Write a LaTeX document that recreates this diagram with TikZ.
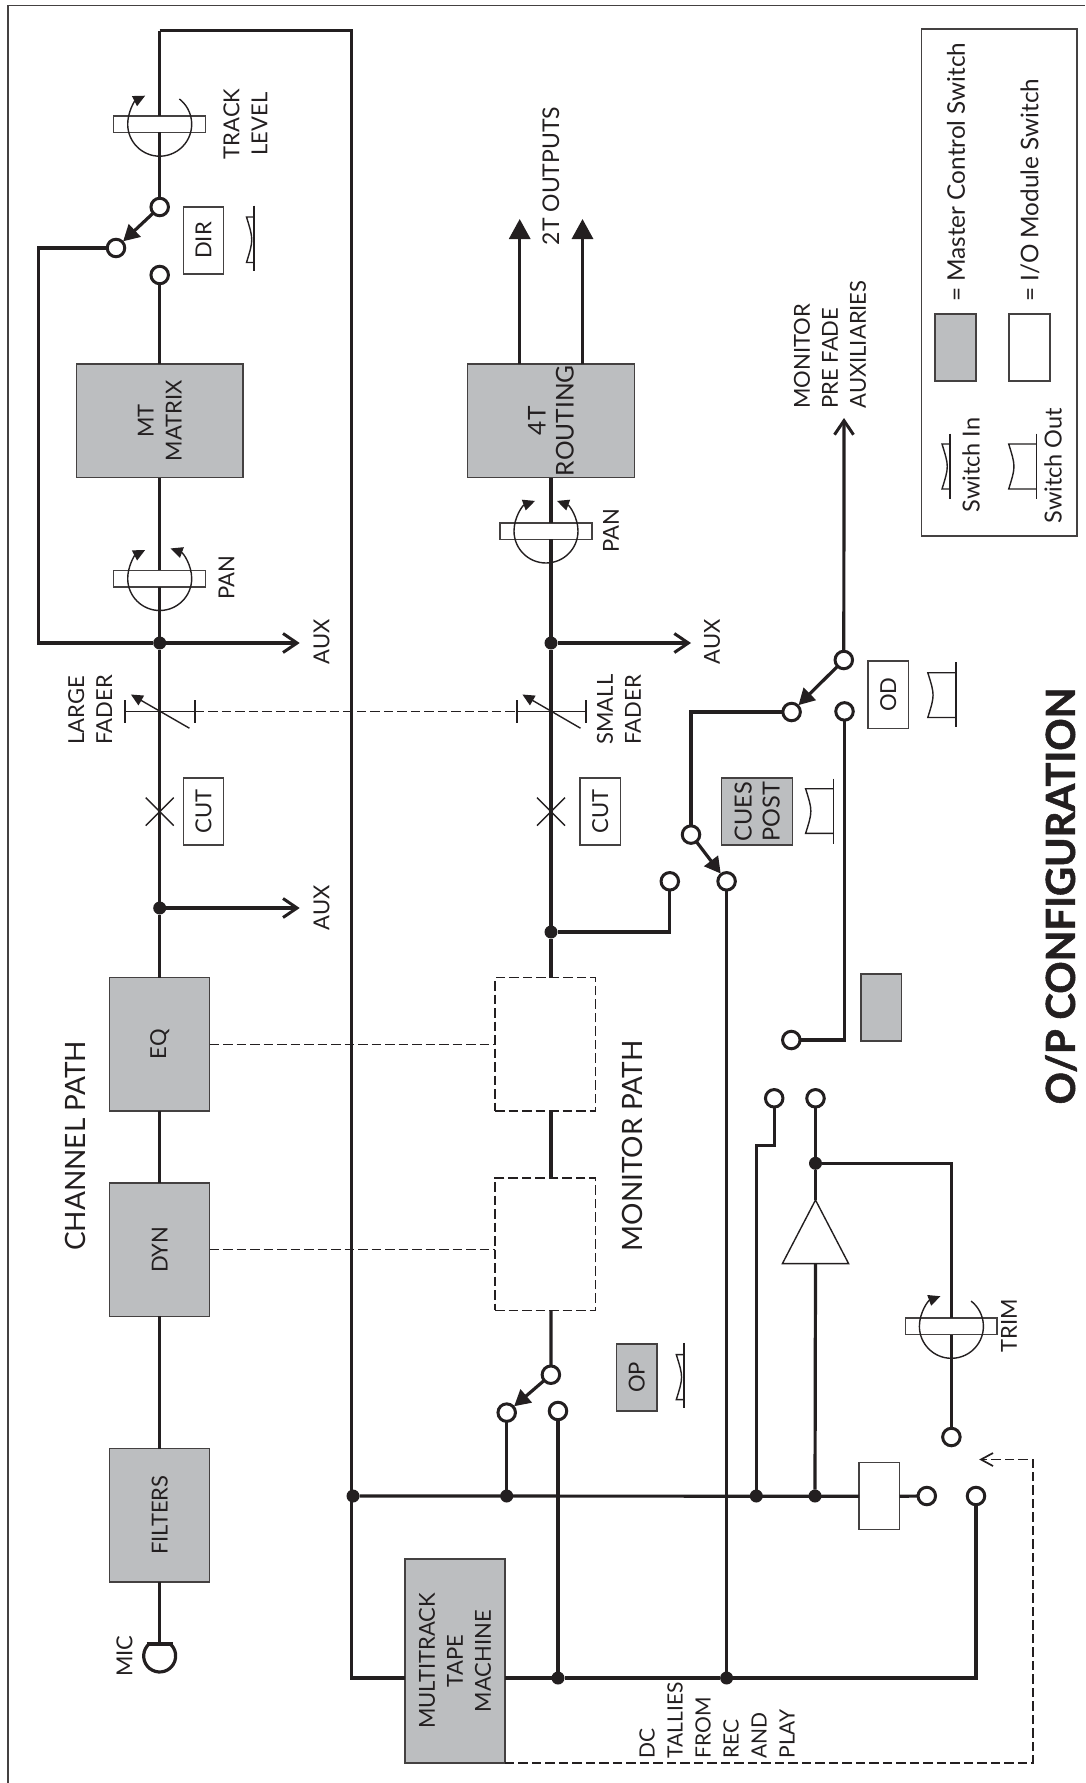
\documentclass[tikz,border=0pt]{standalone}
\usepackage{fontspec}
\setmainfont{Lato}
\newfontfamily\titlef[FakeBold=1.4]{Lato}
\usetikzlibrary{arrows.meta,calc}
\definecolor{ink}{HTML}{231F20}
\definecolor{gfill}{HTML}{BCBEC0}
\tikzset{
  wire/.style={draw=ink,line width=3.2pt},
  bus/.style={draw=ink,line width=3.2pt},
  fine/.style={draw=ink,line width=1.4pt},
  dashline/.style={draw=ink,line width=1.3pt,dash pattern=on 9.5pt off 4pt},
  gbox/.style={draw=ink!85,fill=gfill,line width=1.5pt,inner sep=0pt,outer sep=0pt},
  wbox/.style={draw=ink!85,fill=white,line width=1.5pt,inner sep=0pt,outer sep=0pt},
  dbox/.style={dashline,fill=white,inner sep=0pt,outer sep=0pt},
  term/.style={circle,draw=ink,fill=white,line width=3pt,minimum size=17.5pt,inner sep=0pt,outer sep=1pt},
  dot/.style={circle,fill=ink,minimum size=13pt,inner sep=0pt,outer sep=0pt},
  lab/.style={text=ink,rotate=90,inner sep=0pt,font=\fontsize{22}{28}\selectfont,align=center},
  labl/.style={lab,align=left,anchor=west},
  big/.style={lab,font=\fontsize{28}{32}\selectfont},
  legtext/.style={labl,font=\fontsize{24.3}{28}\selectfont},
  swarrow/.style={wire,-{Triangle[length=16pt,width=17pt]},shorten >=0pt},
  oparrow/.style={wire,-{Straight Barb[length=14pt,width=19pt,line width=3pt]}},
  filled/.style={wire,-{Triangle[length=20pt,width=21pt]}},
  arcarrow/.style={fine,-{Triangle[length=12pt,width=11pt]}},
}
% line x, line y0, line y1, shape x, shape ya, shape yb
\newcommand\swicon[6]{%
  \pgfmathsetmacro\midy{(#5+#6)/2}\pgfmathsetmacro\midx{#4+7}%
  \draw[fine] (#1,#2) -- (#1,#3);
  \draw[fine] (#1,#5) -- (#4,#5) .. controls (\midx,\midy) .. (#4,#6) -- (#1,#6);
}
\begin{document}
\begin{tikzpicture}[x=1pt,y=-1pt]
\useasboundingbox (0,0) rectangle (1085,1783);
% outer frame
\coordinate (fa) at (8,1783); \coordinate (fb) at (8,5.4); \coordinate (fc) at (1085,5.4);
\draw[draw=ink!85,line width=1.8pt] (fa) -- (fb) -- (fc);
% boxes
\node[gbox,minimum width=166.5pt,minimum height=113.6pt] (mt) at (159.7,420.8) {};
\node[lab] (mtT) at (mt) {MT\\MATRIX};
\node[gbox,minimum width=166.6pt,minimum height=113.6pt] (rt) at (551,420.8) {};
\node[lab,font=\fontsize{24.5}{28}\selectfont] (rtT) at (rt) {4T\\ROUTING};
\node[gbox,minimum width=100pt,minimum height=133.3pt] (eq) at (159.7,1044.3) {};
\node[lab] (eqT) at (eq) {EQ};
\node[gbox,minimum width=100pt,minimum height=133.4pt] (dyn) at (159.7,1249.7) {};
\node[lab] (dynT) at (dyn) {DYN};
\node[gbox,minimum width=100pt,minimum height=133.1pt] (fil) at (159.7,1515.2) {};
\node[lab] (filT) at (fil) {FILTERS};
\node[gbox,minimum width=99.8pt,minimum height=204pt] (tape) at (454.9,1661) {};
\node[lab] (tapeT) at (tape) {MULTITRACK\\TAPE\\MACHINE};
\node[dbox,minimum width=100.4pt,minimum height=133.3pt] (dm1) at (545.2,1044.3) {};
\node[dbox,minimum width=100.4pt,minimum height=132.5pt] (dm2) at (545.2,1244.2) {};
% small boxes
\node[wbox,minimum width=39.8pt,minimum height=67pt] (dir) at (203.6,240.5) {};
\node[lab] (dirT) at (dir) {DIR};
\node[wbox,minimum width=39.8pt,minimum height=67pt] (cut1) at (203.6,811.5) {};
\node[lab] (cut1T) at (cut1) {CUT};
\node[wbox,minimum width=40.3pt,minimum height=67pt] (cut2) at (600.2,811.5) {};
\node[lab] (cut2T) at (cut2) {CUT};
\node[wbox,minimum width=40.4pt,minimum height=67.6pt] (od) at (888.2,694.8) {};
\node[lab] (odT) at (od) {OD};
\node[gbox,minimum width=71pt,minimum height=67pt] (cues) at (757.2,811.5) {};
\node[lab,font=\fontsize{23.5}{28}\selectfont] (cuesT) at (cues) {CUES\\POST};
\node[gbox,minimum width=40.5pt,minimum height=67pt] (gb) at (881.3,1007.5) {};
\node[gbox,minimum width=40.5pt,minimum height=66.8pt] (op) at (636.8,1377.4) {};
\node[lab] (opT) at (op) {OP};
\node[wbox,minimum width=40.5pt,minimum height=67pt] (sw) at (879.3,1496.2) {};
% legend
\node[wbox,fill=white,minimum width=155.3pt,minimum height=507pt] (leg) at (999.3,282.3) {};
\node[gbox,minimum width=40.7pt,minimum height=67pt] (lg1) at (955.4,347.3) {};
\node[wbox,minimum width=40.7pt,minimum height=67pt] (lg2) at (1029.4,347.3) {};
\node[legtext] (lg1T) at (956,302) {= Master Control Switch};
\node[legtext] (lg2T) at (1030,302) {= I/O Module Switch};
\node[lab,font=\fontsize{23.5}{28}\selectfont] (lgIn) at (971,465) {Switch In};
\node[lab,font=\fontsize{23.5}{28}\selectfont] (lgOut) at (1053,465.6) {Switch Out};
\swicon{950}{433.6}{498.7}{942}{444}{489}
\swicon{1036.7}{433.6}{498.7}{1008.7}{444}{489}
% switch icons
\swicon{254}{205.5}{271}{246.5}{217}{262.5}
\swicon{956}{662.4}{727.4}{927.8}{672.7}{717.5}
\swicon{833.6}{778.7}{843.8}{805.6}{788.7}{833.4}
\swicon{684}{1342.8}{1408}{676.3}{1354.6}{1399.6}
% knobs
\node[wbox,minimum width=92pt,minimum height=16.5pt] (ktrack) at (159.7,124.2) {};
\node[wbox,minimum width=92pt,minimum height=16.5pt] (kpan1) at (159.7,578.5) {};
\node[wbox,minimum width=92pt,minimum height=16.5pt] (kpan2) at (546,531) {};
\node[wbox,minimum width=91.4pt,minimum height=16.5pt] (ktrim) at (951.4,1326.3) {};
\draw[fine] (ktrack.center) ++(52:32pt) arc[start angle=52,end angle=-90,radius=32pt];
\draw[arcarrow] (ktrack.center) ++(-90:32pt) arc[start angle=-90,end angle=-243,radius=32pt];
\draw[arcarrow] (kpan1.center) ++(-90:32pt) arc[start angle=-90,end angle=-243,radius=32pt];
\draw[arcarrow] (kpan1.center) ++(-90:32pt) arc[start angle=-90,end angle=70,radius=32pt];
\draw[arcarrow] (kpan2.center) ++(-90:32pt) arc[start angle=-90,end angle=-250,radius=32pt];
\draw[arcarrow] (kpan2.center) ++(-90:32pt) arc[start angle=-90,end angle=70,radius=32pt];
\draw[fine] (ktrim.center) ++(52:32pt) arc[start angle=52,end angle=-90,radius=32pt];
\draw[arcarrow] (ktrim.center) ++(-90:32pt) arc[start angle=-90,end angle=-250,radius=32pt];
% terminals
\node[term] (dirA) at (159.7,207) {};
\node[term] (dirB) at (116,248) {};
\node[term] (dirC) at (159.7,275) {};
\node[term] (odA) at (843.8,660) {};
\node[term] (odB) at (791.6,712) {};
\node[term] (odC) at (844.5,711.4) {};
\node[term] (cuA) at (691,834.6) {};
\node[term] (cuB) at (726.6,881.3) {};
\node[term] (cuC) at (669.8,881.3) {};
\node[term] (odD) at (791.3,1040) {};
\node[term] (amA) at (774.2,1098.3) {};
\node[term] (amB) at (815.5,1098.3) {};
\node[term] (opA) at (550.9,1374.7) {};
\node[term] (opB) at (506.7,1412.6) {};
\node[term] (opC) at (558,1411) {};
\node[term] (trA) at (951.4,1437) {};
\node[term] (trB) at (926.8,1496) {};
\node[term] (trC) at (976,1496) {};
% junctions
\node[dot] (j1) at (159.7,908) {};
\node[dot] (j2) at (159.7,643) {};
\node[dot] (j3) at (551,643) {};
\node[dot] (j4) at (551,932) {};
\node[dot] (j5) at (353,1496) {};
\node[dot] (j6) at (506.7,1496) {};
\node[dot] (j7) at (756.3,1496) {};
\node[dot] (j8) at (815,1496) {};
\node[dot] (j9) at (558,1678) {};
\node[dot] (j10) at (726.6,1678) {};
\node[dot] (j11) at (815.5,1163.3) {};
% amplifier
\coordinate (apex) at (815.5,1200); \coordinate (baseL) at (782.4,1263.6); \coordinate (baseR) at (848.6,1263.6); \coordinate (baseC) at (815.5,1263.6);
\draw[fine,fill=white,line join=miter] (apex) -- (baseL) -- (baseR) -- cycle;
% mic
\coordinate (micT) at (159.7,1644); \coordinate (micL) at (146.5,1644); \coordinate (micR) at (173,1644);
\draw[wire] (micL) -- (micR);
\draw[wire] (149.4,1643.7) arc[start angle=130,end angle=410,radius=16pt];
\draw[wire] (fil.south) -- (micT);
% channel wires
\draw[wire] (fil.north) -- (dyn.south);
\draw[wire] (dyn.north) -- (eq.south);
\draw[wire] (eq.north) -- (j1);
\draw[wire] (j1) -- (j2);
\draw[wire] (j2) -- (kpan1.south);
\draw[wire] (kpan1.north) -- (mt.south);
\draw[wire] (mt.north) -- (dirC);
\draw[wire] (dirA) -- (ktrack.south);
\coordinate (t1) at (159.7,30.6); \coordinate (t2) at (351.3,30.6); \coordinate (t3) at (351.3,1678);
\draw[wire] (ktrack.north) -- (t1);
\draw[bus] (t1) -- (t2) -- (t3) -- (tape.west |- t3);
\coordinate (dl1) at (38.3,248); \coordinate (dl2) at (38.3,643);
\draw[bus] (dirB) -- (dl1) -- (dl2) -- (j2);
\coordinate (aux1e) at (299.7,908); \coordinate (aux2e) at (299.7,643); \coordinate (aux3e) at (691,643);
\draw[oparrow] (j1) -- (aux1e);
\draw[oparrow] (j2) -- (aux2e);
\draw[oparrow] (j3) -- (aux3e);
\draw[swarrow] (dirA) -- (dirB);
% routing
\coordinate (o1) at (519.7,219); \coordinate (o2) at (582.5,219);
\draw[filled] (rt.north -| o1) -- (o1);
\draw[filled] (rt.north -| o2) -- (o2);
\draw[wire] (j3 |- kpan2.north) -- (j3 |- rt.south);
\draw[wire] (j3) -- (j3 |- kpan2.south);
\draw[wire] (j3) -- (j4);
\draw[wire] (j4) -- (dm1.north -| j4);
\coordinate (dm1b) at (551,1110.9); \coordinate (dm2t) at (551,1178);
\draw[wire] (dm1b) -- (dm2t);
\coordinate (dm2b) at (551,1310.4);
\draw[wire] (dm2b) -- (opA);
\draw[swarrow] (opA) -- (opB);
\draw[wire] (opB) -- (j6);
\draw[wire] (opC) -- (j9);
% switches
\coordinate (mona) at (844,418);
\draw[oparrow] (odA) -- (mona);
\draw[swarrow] (odA) -- (odB);
\draw[wire] (odB) -| (cuA);
\draw[swarrow] (cuA) -- (cuB);
\draw[bus] (cuB) -- (j10);
\draw[wire] (j4) -| (cuC);
\draw[wire] (odC) |- (odD);
\coordinate (am1) at (774.2,1145.7); \coordinate (am2) at (756.3,1145.7);
\draw[wire] (amA) -- (am1) -- (am2) -- (j7);
\draw[wire] (amB) -- (j11);
\draw[wire] (j11) -- (apex);
\draw[wire] (baseC) -- (j8);
\coordinate (tr1) at (951.4,1163.3);
\draw[wire] (j11) -- (tr1) -- (ktrim.north);
\draw[wire] (ktrim.south) -- (trA);
% horizontal buses
\draw[wire] (j5) -- (sw.west);
\draw[wire] (sw.east) -- (trB);
\draw[bus] (tape.east |- t3) -- (j9) -- (j10) -| (trC);
% faders
\coordinate (f1) at (159.7,711.4); \coordinate (f2) at (551,711.4);
\coordinate (f1l) at (124.8,711.4); \coordinate (f1r) at (194.8,711.4);
\coordinate (f2l) at (516.6,711.4); \coordinate (f2r) at (586.3,711.4);
\draw[draw=ink,line width=2pt] (f1l |- 0,700) -- (f1l |- 0,722.5) (f1r |- 0,700) -- (f1r |- 0,722.5);
\draw[draw=ink,line width=2pt] (f2l |- 0,700) -- (f2l |- 0,722.5) (f2r |- 0,700) -- (f2r |- 0,722.5);
\draw[fine] (f1l) -- (f1r) (f2l) -- (f2r);
\coordinate (fd1a) at (189.4,728.2); \coordinate (fd1b) at (130.9,694.5);
\coordinate (fd2a) at (580.5,728.2); \coordinate (fd2b) at (522.4,694.5);
\draw[arcarrow] (fd1a) -- (fd1b);
\draw[arcarrow] (fd2a) -- (fd2b);
\draw[dashline] (f1r) -- (f2l);
% gang dashes
\draw[dashline] (eq.east) -- (dm1.west |- eq.east);
\draw[dashline] (dyn.east) -- (dm2.west |- dyn.east);
% X marks
\draw[fine] (145.7,797.6) -- (173.7,825.6) (145.7,825.6) -- (173.7,797.6);
\draw[fine] (537,797.6) -- (565,825.6) (537,825.6) -- (565,797.6);
% tally dashed
\coordinate (d1) at (504.8,1763); \coordinate (d2) at (1033,1763); \coordinate (d3) at (1033,1459.5); \coordinate (d4) at (980.7,1459.5);
\draw[dashline] (d1) -- (d2) -- (d3) -- (d4);
\draw[draw=ink,line width=1.7pt] (993,1453) -- (981,1459.5) -- (993,1466);
% labels
\node[lab] (lTrack) at (245.5,124) {TRACK\\LEVEL};
\node[lab] (lPan1) at (226.5,578) {PAN};
\node[lab] (lPan2) at (611,531) {PAN};
\node[lab,font=\fontsize{23}{28}\selectfont] (l2t) at (551,176) {2T OUTPUTS};
\node[labl] (lMon) at (830,408.7) {MONITOR\\PRE FADE\\AUXILIARIES};
\node[labl] (lLarge) at (90.2,744.7) {LARGE\\FADER};
\node[labl] (lSmall) at (619,744.7) {SMALL\\FADER};
\node[lab] (lAux1) at (321.5,908) {AUX};
\node[lab] (lAux2) at (321.5,642) {AUX};
\node[lab] (lAux3) at (712,642) {AUX};
\node[big] (lCh) at (75.8,1146) {CHANNEL PATH};
\node[big] (lMp) at (632.5,1146) {MONITOR PATH};
\node[lab] (lTrim) at (1009,1326) {TRIM};
\node[lab] (lMic) at (124.4,1656) {MIC};
\node[labl,font=\fontsize{21}{28}\selectfont] (lDc) at (717,1758.7) {DC\\TALLIES\\FROM\\REC\\AND\\PLAY};
\node[lab,font=\fontsize{40}{44}\titlef\bfseries] (lTitle) at (1061,896) {O/P CONFIGURATION};
\end{tikzpicture}
\end{document}
